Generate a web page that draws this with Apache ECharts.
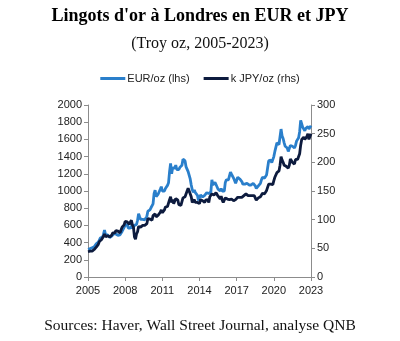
<!DOCTYPE html>
<html><head><meta charset="utf-8">
<script src="https://cdn.jsdelivr.net/npm/echarts@6/dist/echarts.min.js"></script>
<style>html,body{margin:0;padding:0;background:#fff}#c{width:400px;height:341px}</style>
</head><body><div id="c"></div>
<script>
const titleText = "Lingots d'or à Londres en EUR et JPY";
const subtitleText = "(Troy oz, 2005-2023)";
const sourceText = "Sources: Haver, Wall Street Journal, analyse QNB";
const seriesNames = ["EUR/oz (lhs)", "k JPY/oz (rhs)"];
const startYear = 2005;
const xTicks = [2005, 2008, 2011, 2014, 2017, 2020, 2023];
const leftTicks = [0, 200, 400, 600, 800, 1000, 1200, 1400, 1600, 1800, 2000];
const rightTicks = [0, 50, 100, 150, 200, 250, 300];
// monthly values from Jan 2005
const eurValues = [
 323,320,330,333,340,355,350,355,385,395,405,430,
 455,465,460,495,545,490,500,490,470,460,480,475,
 485,505,490,500,490,485,485,490,510,530,555,550,
 600,620,610,570,565,570,595,565,560,600,600,610,
 660,735,700,670,660,670,665,665,685,705,765,765,
 780,805,825,850,970,1010,935,950,965,960,1020,1050,
 1000,1010,1000,1030,1045,1065,1095,1225,1320,1200,1270,1250,
 1265,1300,1250,1255,1250,1275,1290,1300,1370,1355,1350,1280,
 1260,1225,1220,1140,1070,1015,985,1010,980,960,950,890,
 905,955,975,930,935,950,960,980,970,970,960,990,
 1130,1070,1090,1100,1075,1065,1020,1020,1000,1030,1000,980,
 1000,1100,1130,1130,1130,1140,1220,1195,1180,1150,1150,1090,
 1125,1160,1150,1140,1120,1110,1080,1080,1080,1090,1090,1070,
 1070,1080,1070,1080,1090,1100,1060,1030,1020,1060,1060,1090,
 1130,1160,1160,1150,1150,1190,1270,1350,1365,1360,1330,1330,
 1400,1460,1450,1560,1560,1540,1560,1720,1640,1610,1560,1520,
 1540,1500,1460,1450,1530,1530,1520,1510,1500,1530,1580,1590,
 1620,1690,1820,1780,1740,1740,1700,1730,1740,1750,1720,1700,
 1760
];
const jpyValues = [
 44,44,45,46,45,47,48,48,52,54,57,62,
 65,65,65,71,75,70,72,72,70,70,73,73,
 77,80,77,81,80,80,82,77,82,87,88,91,
 97,100,96,93,92,95,99,91,87,70,66,75,
 79,88,90,87,90,90,89,90,90,93,102,100,
 101,98,99,107,108,110,105,104,108,110,113,117,
 112,114,117,122,121,123,125,135,140,130,135,128,
 130,137,137,134,126,126,125,127,138,138,140,143,
 150,155,150,148,140,130,130,135,130,128,130,128,
 128,135,137,133,131,130,134,135,135,130,140,142,
 145,145,143,143,147,146,141,138,136,141,134,130,
 132,138,138,136,136,135,138,136,135,133,135,135,
 137,139,138,139,139,139,139,142,144,145,145,142,
 144,142,140,142,144,142,138,134,135,138,138,140,
 141,146,144,145,145,151,153,162,162,162,160,161,
 168,174,175,182,184,185,195,210,204,200,195,193,
 193,193,190,195,206,208,200,198,197,205,205,205,
 207,215,230,240,238,244,240,240,245,250,240,245,
 250
];
const toPts = arr => arr.map((v, i) => [startYear + i / 12, v]);
const chart = echarts.init(document.getElementById('c'), null, {renderer: 'canvas'});
const axisGray = '#8c8c8c';
const serif = 'Liberation Serif, Times New Roman, serif';
const lblStyle = {color: '#222', fontSize: 11, fontFamily: 'Liberation Sans, Arial, sans-serif'};
chart.setOption({
  animation: false,
  title: [
    {text: titleText, left: 'center', top: 2, textStyle: {fontFamily: serif, fontSize: 18, fontWeight: 'bold', color: '#000'}},
    {text: subtitleText, left: 'center', top: 31, textStyle: {fontFamily: serif, fontSize: 16, fontWeight: 'normal', color: '#111'}},
    {text: sourceText, left: 'center', top: 313, textStyle: {fontFamily: serif, fontSize: 15.5, fontWeight: 'normal', color: '#111'}}
  ],
  legend: {
    top: 68, left: 'center', itemGap: 14, itemWidth: 25, itemHeight: 3, icon: 'rect',
    textStyle: {color: '#222', fontSize: 11, fontFamily: 'Liberation Sans, Arial, sans-serif', padding: [0, 0, 0, -3]},
    data: seriesNames
  },
  grid: {left: 88, right: 89, top: 105, bottom: 64},
  xAxis: {
    type: 'value', min: xTicks[0], max: xTicks[xTicks.length - 1], interval: 3,
    axisLine: {lineStyle: {color: axisGray}}, axisTick: {show: true, length: 4, lineStyle: {color: axisGray}},
    splitLine: {show: false},
    axisLabel: {...lblStyle, margin: 8, formatter: v => String(v)}
  },
  yAxis: [
    {type: 'value', min: 0, max: leftTicks[leftTicks.length - 1], interval: 200, position: 'left',
     axisLine: {show: true, lineStyle: {color: axisGray}}, axisTick: {show: true, length: 4, lineStyle: {color: axisGray}},
     splitLine: {show: false}, axisLabel: {...lblStyle, margin: 6, formatter: v => String(v)}},
    {type: 'value', min: 0, max: rightTicks[rightTicks.length - 1], interval: 50, position: 'right',
     axisLine: {show: true, lineStyle: {color: axisGray}}, axisTick: {show: true, length: 4, lineStyle: {color: axisGray}},
     splitLine: {show: false}, axisLabel: {...lblStyle, margin: 6, formatter: v => String(v)}}
  ],
  series: [
    {name: seriesNames[0], type: 'line', yAxisIndex: 0, showSymbol: false, data: toPts(eurValues),
     lineStyle: {width: 2.8, color: '#2a7fcb'}, itemStyle: {color: '#2a7fcb'}, z: 2},
    {name: seriesNames[1], type: 'line', yAxisIndex: 1, showSymbol: false, data: toPts(jpyValues),
     lineStyle: {width: 2.8, color: '#0d1b3e'}, itemStyle: {color: '#0d1b3e'}, z: 3}
  ]
});
</script></body></html>
